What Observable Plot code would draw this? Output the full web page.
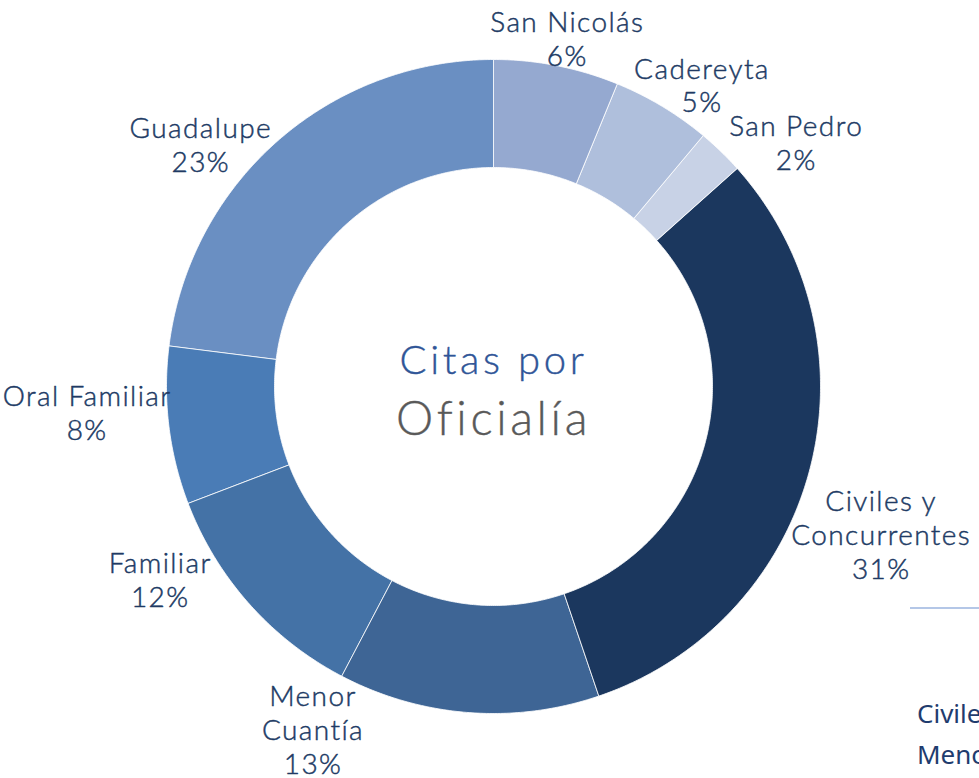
<!DOCTYPE html>
<html><head><meta charset="utf-8">
<script src="https://cdn.jsdelivr.net/npm/d3@7"></script>
<script src="https://cdn.jsdelivr.net/npm/@observablehq/plot@0.6"></script>
<style>
body{margin:0;background:#fff;overflow:hidden;}
#wrap{position:relative;width:979px;height:778px;overflow:hidden;background:#fff;}
#wrap svg{display:block;}
#wrap svg g[aria-label="text"] text{letter-spacing:1.4px;}
.side{position:absolute;left:917px;white-space:nowrap;font-family:"Noto Sans",sans-serif;font-size:26px;color:#1f3c6e;line-height:26px;}
.rule{position:absolute;left:910px;top:607px;width:80px;border-top:2px solid #b4c7e7;}
</style>
</head><body>
<div id="wrap">
  <div id="chart"></div>
  <div class="rule"></div>
  <div class="side" style="top:700px">Civiles y Concurrentes</div>
  <div class="side" style="top:741px">Menor Cuantía</div>
</div>
<script>
// ---- data ----
const oficialias = ["San Nicolás","Cadereyta","San Pedro","Civiles y Concurrentes","Menor Cuantía","Familiar","Oral Familiar","Guadalupe"];
const porcentajes = [6.2, 4.9, 2.3, 31.4, 12.9, 11.5, 7.8, 23.0];
const etiquetas = ["San Nicolás","Cadereyta","San Pedro","Civiles y\nConcurrentes","Menor\nCuantía","Familiar","Oral Familiar","Guadalupe"];
const tituloLinea1 = "Citas por";
const tituloLinea2 = "Oficialía";

// ---- style / layout ----
const colores = ["#95a9d0","#afbfdc","#c8d2e6","#1b375e","#3e6595","#4472a6","#4a7cb6","#6a8fc2"];
const W = 979, H = 778, cx = 493, cy = 386, R = 327, innerRatio = 219/327;
const labelRadius = 1.15;
const labelNudge = [[1,21],[14,20],[41,26],[24,52],[-151,-32],[-52,-57],[-33,-19],[-44,40]];

const rows = oficialias.map((name, i) => ({name, value: porcentajes[i], label: etiquetas[i]}));
const arcs = d3.pie().sort(null).value(d => d.value).startAngle(0).endAngle(2*Math.PI)(rows);

// unit coordinates, y pointing down (screen convention)
function slice(a) {
  const n = Math.max(6, Math.ceil((a.endAngle - a.startAngle) / (Math.PI/360)));
  const outer = d3.range(n+1).map(i => {const t = a.startAngle + (a.endAngle - a.startAngle)*i/n; return [Math.sin(t), -Math.cos(t)];});
  const inner = outer.slice().reverse().map(([x,y]) => [x*innerRatio, y*innerRatio]);
  return {type:"Feature", properties:{name:a.data.name}, geometry:{type:"Polygon", coordinates:[[...outer, ...inner, outer[0]]]}};
}
const features = arcs.map(slice);

const labels = arcs.map((a, i) => {
  const t = (a.startAngle + a.endAngle)/2;
  return {
    x: labelRadius*Math.sin(t) + labelNudge[i][0]/R,
    y: -labelRadius*Math.cos(t) + labelNudge[i][1]/R,
    text: a.data.label + "\n" + Math.round(a.data.value) + "%"
  };
});

const x0 = -cx/R, x1 = (W-cx)/R, y0 = -cy/R, y1 = (H-cy)/R;
const domain = {type:"Polygon", coordinates:[[[x0,y0],[x1,y0],[x1,y1],[x0,y1],[x0,y0]]]};

const chart = Plot.plot({
  width: W, height: H,
  margin: 0,
  projection: {type: "identity", domain, inset: 0},
  color: {domain: oficialias, range: colores},
  style: {fontFamily: "Lato, sans-serif", background: "#fff"},
  marks: [
    Plot.geo(features, {fill: d => d.properties.name, stroke: "#ffffff", strokeWidth: 0.8}),
    Plot.text(labels, {x: "x", y: "y", text: "text", fontSize: 28, lineHeight: 1.21, fill: "#203a64", stroke: "#203a64", strokeWidth: 0.45, fontWeight: 300, textAnchor: "middle"}),
    Plot.text([tituloLinea1], {x: () => 0, y: () => 0, text: d => d, dy: -25, fontSize: 40, fill: "#2f5597", stroke: "#2f5597", strokeWidth: 0.4, fontWeight: 300, textAnchor: "middle"}),
    Plot.text([tituloLinea2], {x: () => 0, y: () => 0, text: d => d, dy: 33, fontSize: 47, fill: "#595959", stroke: "#595959", strokeWidth: 0.4, fontWeight: 300, textAnchor: "middle"})
  ]
});
d3.select(chart).selectAll('g[aria-label="text"]').filter((d, i) => i >= 1).selectAll("text").style("letter-spacing", "3.6px");
document.getElementById("chart").appendChild(chart);
</script>
</body></html>
